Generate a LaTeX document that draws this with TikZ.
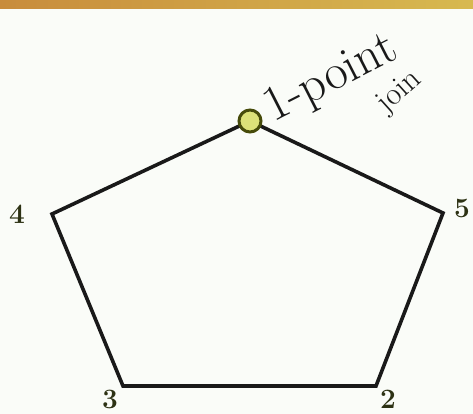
\documentclass[tikz,border=0pt]{standalone}
\definecolor{edge}{RGB}{25,25,25}
\definecolor{dotfill}{RGB}{220,225,120}
\definecolor{dotline}{RGB}{70,75,10}
\definecolor{rimA}{RGB}{200,140,60}
\definecolor{rimB}{RGB}{215,185,80}
\definecolor{paper}{RGB}{250,252,248}
\definecolor{numcol}{RGB}{45,50,20}
\begin{document}
\begin{tikzpicture}[x=1pt,y=-1pt,
  side/.style={draw=edge,line width=3.6pt,line join=miter},
  vlabel/.style={font=\fontsize{28}{30}\selectfont\bfseries,text=numcol,inner sep=0pt},
  note/.style={text=edge,inner sep=0pt,anchor=west}]
\useasboundingbox (0,0) rectangle (473,414);
\fill[paper] (0,0) rectangle (473,414);
\shade[left color=rimA,right color=rimB] (0,0) rectangle (473,9);
\coordinate (v1) at (250,121);
\coordinate (v5) at (443,213);
\coordinate (v2) at (376,386);
\coordinate (v3) at (123,386);
\coordinate (v4) at (52,214);
\draw[side] (v1) -- (v5) -- (v2) -- (v3) -- (v4) -- cycle;
\node[circle,draw=dotline,fill=dotfill,line width=3pt,minimum size=22pt,inner sep=0pt] (dot) at (v1) {};
\node[vlabel] (l4) at (17,214) {4};
\node[vlabel] (l5) at (462,208) {5};
\node[vlabel] (l3) at (110,399) {3};
\node[vlabel] (l2) at (388,399) {2};
\node[note,font=\fontsize{50}{52}\selectfont,rotate=27] (n1) at (268,112) {1-point};
\node[note,font=\fontsize{32}{34}\selectfont,rotate=42] (n2) at (382,108) {join};
\end{tikzpicture}
\end{document}
